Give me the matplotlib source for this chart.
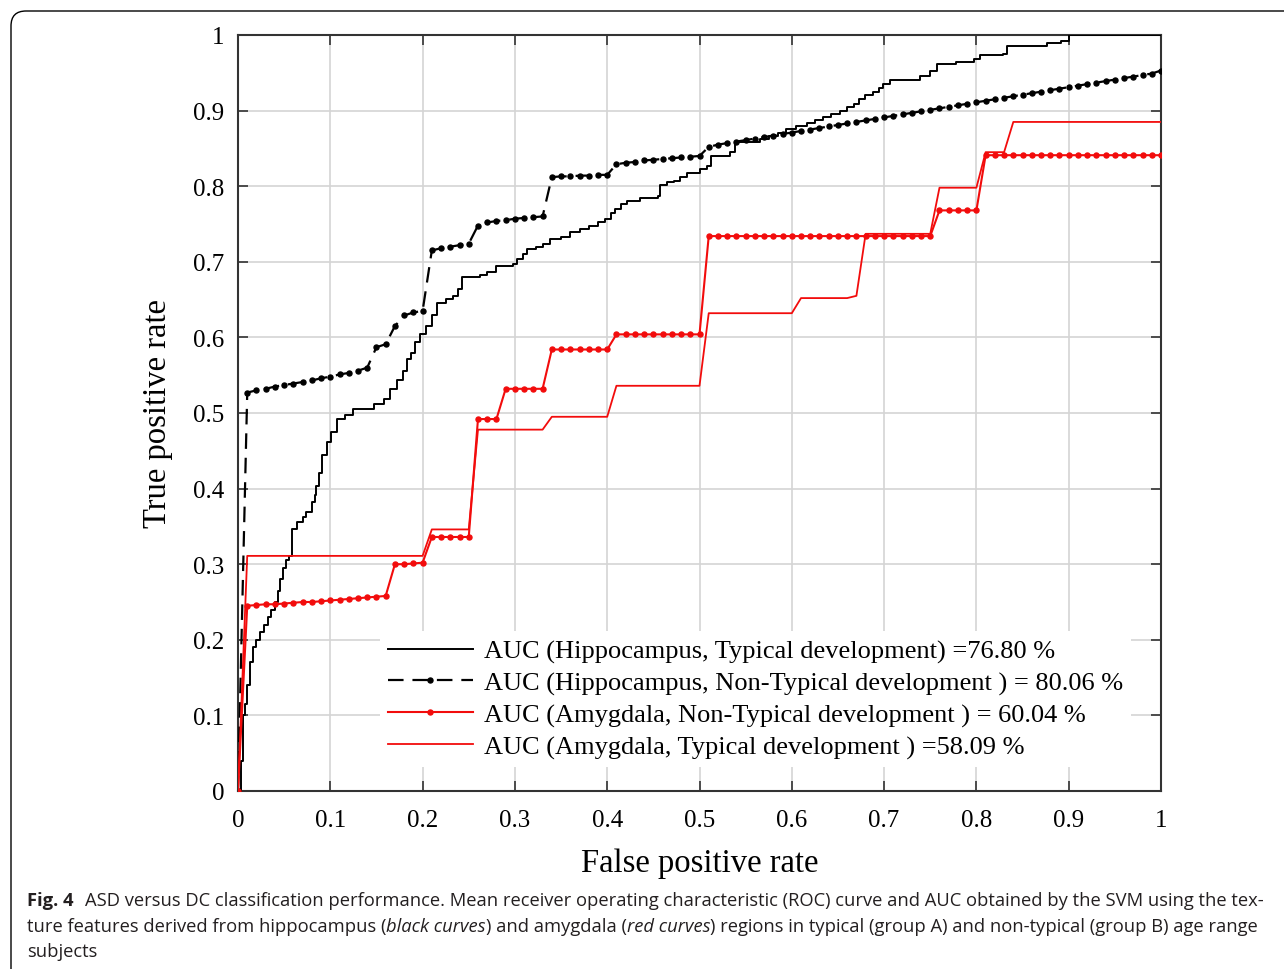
import numpy as np
import matplotlib
matplotlib.use("Agg")
import matplotlib.pyplot as plt
from matplotlib import font_manager
from matplotlib.path import Path
from matplotlib.patches import PathPatch

W, H = 1284, 970
SERIF = "Liberation Serif"
_installed = {f.name for f in font_manager.fontManager.ttflist}
CAPTION_FONT = "Liberation Sans Narrow" if "Liberation Sans Narrow" in _installed else "Open Sans"

# mean ROC grid used by the two marked curves
fpr_grid = np.linspace(0, 1, 101)

hip_nontyp_tpr = [
    0.000,
    0.527, 0.530, 0.532, 0.535, 0.537, 0.539, 0.541, 0.543, 0.546, 0.548,
    0.551, 0.553, 0.556, 0.560, 0.587, 0.591, 0.615, 0.629, 0.633, 0.635,
    0.715, 0.718, 0.720, 0.722, 0.724, 0.748, 0.752, 0.754, 0.755, 0.757,
    0.758, 0.759, 0.760, 0.812, 0.813, 0.813, 0.814, 0.814, 0.815, 0.815,
    0.829, 0.831, 0.832, 0.834, 0.835, 0.836, 0.837, 0.838, 0.839, 0.840,
    0.852, 0.855, 0.857, 0.859, 0.861, 0.863, 0.865, 0.867, 0.869, 0.871,
    0.873, 0.875, 0.877, 0.879, 0.881, 0.883, 0.885, 0.887, 0.889, 0.891,
    0.893, 0.895, 0.897, 0.899, 0.901, 0.903, 0.905, 0.907, 0.909, 0.911,
    0.913, 0.915, 0.917, 0.919, 0.921, 0.923, 0.925, 0.927, 0.929, 0.931,
    0.933, 0.935, 0.937, 0.939, 0.941, 0.943, 0.945, 0.947, 0.949, 0.953,
]

amy_nontyp_tpr = [
    0.000,
    0.245, 0.246, 0.247, 0.247, 0.248, 0.249, 0.250, 0.250, 0.251, 0.252,
    0.253, 0.254, 0.255, 0.256, 0.257, 0.258, 0.300, 0.300, 0.301, 0.302,
    0.336, 0.336, 0.336, 0.336, 0.336, 0.492, 0.492, 0.492, 0.532, 0.532,
    0.532, 0.532, 0.532, 0.584, 0.584, 0.584, 0.584, 0.584, 0.584, 0.584,
    0.604, 0.604, 0.604, 0.604, 0.604, 0.604, 0.604, 0.604, 0.604, 0.604,
    0.734, 0.734, 0.734, 0.734, 0.734, 0.734, 0.734, 0.734, 0.734, 0.734,
    0.734, 0.734, 0.734, 0.734, 0.734, 0.734, 0.734, 0.734, 0.734, 0.734,
    0.734, 0.734, 0.734, 0.734, 0.734, 0.768, 0.768, 0.768, 0.768, 0.768,
    0.841, 0.841, 0.841, 0.841, 0.841, 0.841, 0.841, 0.841, 0.841, 0.841,
    0.841, 0.841, 0.841, 0.841, 0.841, 0.841, 0.841, 0.841, 0.841, 0.841,
]

amy_typ_tpr = [
    0.000,
    0.311, 0.311, 0.311, 0.311, 0.311, 0.311, 0.311, 0.311, 0.311, 0.311,
    0.311, 0.311, 0.311, 0.311, 0.311, 0.311, 0.311, 0.311, 0.311, 0.311,
    0.346, 0.346, 0.346, 0.346, 0.346, 0.478, 0.478, 0.478, 0.478, 0.478,
    0.478, 0.478, 0.478, 0.495, 0.495, 0.495, 0.495, 0.495, 0.495, 0.495,
    0.536, 0.536, 0.536, 0.536, 0.536, 0.536, 0.536, 0.536, 0.536, 0.536,
    0.632, 0.632, 0.632, 0.632, 0.632, 0.632, 0.632, 0.632, 0.632, 0.632,
    0.652, 0.652, 0.652, 0.652, 0.652, 0.652, 0.655, 0.737, 0.737, 0.737,
    0.737, 0.737, 0.737, 0.737, 0.737, 0.798, 0.798, 0.798, 0.798, 0.798,
    0.845, 0.845, 0.845, 0.885, 0.885, 0.885, 0.885, 0.885, 0.885, 0.885,
    0.885, 0.885, 0.885, 0.885, 0.885, 0.885, 0.885, 0.885, 0.885, 0.885,
]

# hippocampus, typical development: staircase ROC (step starts)
hip_typ_fpr = [
    0, 0.003, 0.005, 0.008, 0.010, 0.013, 0.016, 0.020, 0.024, 0.028,
    0.032, 0.036, 0.040, 0.043, 0.046, 0.049, 0.052, 0.055, 0.058, 0.064,
    0.070, 0.074, 0.080, 0.083, 0.085, 0.088, 0.091, 0.096, 0.101, 0.107,
    0.116, 0.125, 0.147, 0.158, 0.165, 0.172, 0.179, 0.183, 0.187, 0.192,
    0.197, 0.204, 0.210, 0.216, 0.225, 0.233, 0.238, 0.243, 0.262, 0.270,
    0.279, 0.298, 0.302, 0.309, 0.313, 0.323, 0.330, 0.338, 0.350, 0.360,
    0.370, 0.380, 0.390, 0.398, 0.404, 0.408, 0.415, 0.421, 0.436, 0.455,
    0.457, 0.465, 0.472, 0.479, 0.486, 0.500, 0.508, 0.513, 0.533, 0.538,
    0.566, 0.575, 0.585, 0.594, 0.605, 0.616, 0.625, 0.634, 0.643, 0.652,
    0.660, 0.667, 0.673, 0.679, 0.688, 0.694, 0.699, 0.706, 0.739, 0.750,
    0.757, 0.778, 0.797, 0.804, 0.829, 0.833, 0.876, 0.892, 0.900, 1.000,
]
hip_typ_tpr = [
    0, 0.04, 0.10, 0.115, 0.14, 0.17, 0.19, 0.20, 0.21, 0.22,
    0.23, 0.24, 0.25, 0.265, 0.28, 0.295, 0.305, 0.311, 0.347, 0.356,
    0.362, 0.369, 0.382, 0.392, 0.404, 0.42, 0.444, 0.461, 0.475, 0.492,
    0.497, 0.505, 0.512, 0.519, 0.532, 0.543, 0.556, 0.571, 0.58, 0.594,
    0.604, 0.615, 0.629, 0.646, 0.651, 0.655, 0.664, 0.68, 0.682, 0.686,
    0.695, 0.697, 0.704, 0.71, 0.717, 0.719, 0.724, 0.73, 0.733, 0.739,
    0.743, 0.748, 0.752, 0.757, 0.765, 0.77, 0.776, 0.781, 0.785, 0.787,
    0.801, 0.805, 0.807, 0.812, 0.818, 0.823, 0.827, 0.84, 0.845, 0.858,
    0.862, 0.866, 0.87, 0.876, 0.88, 0.884, 0.887, 0.891, 0.895, 0.90,
    0.905, 0.909, 0.915, 0.92, 0.924, 0.93, 0.935, 0.94, 0.946, 0.953,
    0.962, 0.964, 0.968, 0.973, 0.975, 0.986, 0.99, 0.992, 1.0, 1.0,
]

legend_labels = [
    "AUC (Hippocampus, Typical development) =76.80 %",
    "AUC (Hippocampus, Non-Typical development ) = 80.06 %",
    "AUC (Amygdala, Non-Typical development ) = 60.04 %",
    "AUC (Amygdala, Typical development ) =58.09 %",
]
tick_values = [0, 0.1, 0.2, 0.3, 0.4, 0.5, 0.6, 0.7, 0.8, 0.9, 1]
tick_labels = ["0", "0.1", "0.2", "0.3", "0.4", "0.5", "0.6", "0.7", "0.8", "0.9", "1"]

caption_line1 = "ASD versus DC classification performance. Mean receiver operating characteristic (ROC) curve and AUC obtained by the SVM using the tex-"
caption_line2 = [
    ("ture features derived from hippocampus (", "normal"),
    ("black curves", "italic"),
    (") and amygdala (", "normal"),
    ("red curves", "italic"),
    (") regions in typical (group A) and non-typical (group B) age range", "normal"),
]
caption_line3 = "subjects"

RED = "#f20c0c"

fig = plt.figure(figsize=(W / 100, H / 100), dpi=100)
ax = fig.add_axes([238 / W, 1 - 792 / H, 923 / W, 756 / H])

ax.plot(hip_typ_fpr, hip_typ_tpr, color="black", lw=1.4, drawstyle="steps-post",
        label=legend_labels[0], zorder=3)
ax.plot(fpr_grid, hip_nontyp_tpr, color="black", lw=1.6, linestyle=(0, (7, 4)),
        marker="o", markersize=3.6, label=legend_labels[1], zorder=3)
ax.plot(fpr_grid, amy_nontyp_tpr, color=RED, lw=1.5, marker="o", markersize=3.6,
        label=legend_labels[2], zorder=3)
ax.plot(fpr_grid, amy_typ_tpr, color=RED, lw=1.3, label=legend_labels[3], zorder=3)

ax.set_xlim(0, 1)
ax.set_ylim(0, 1)
ax.set_xticks(tick_values)
ax.set_xticklabels(tick_labels, fontsize=18, family=SERIF)
ax.set_yticks(tick_values)
ax.set_yticklabels(tick_labels, fontsize=18, family=SERIF)
ax.tick_params(direction="in", length=7, width=1.2, color="#333333",
               top=True, right=True)
ax.tick_params(axis="x", pad=13)
ax.tick_params(axis="y", pad=10)
ax.grid(True, color="#d4d4d4", lw=1.2)
ax.set_axisbelow(True)
for sp in ax.spines.values():
    sp.set_color("#333333")
    sp.set_linewidth(1.5)

ax.set_xlabel("False positive rate", fontsize=23.5, family=SERIF, labelpad=12)
ax.set_ylabel("True positive rate", fontsize=23.5, family=SERIF, labelpad=14)

leg = ax.legend(loc="center left", bbox_to_anchor=(0.154, 0.1217), borderaxespad=0,
                prop={"family": SERIF, "size": 19}, handlelength=3.2,
                handletextpad=0.45, labelspacing=0.3, borderpad=0.3,
                frameon=True, fancybox=False, framealpha=1)
leg.get_frame().set_edgecolor("none")
leg.get_frame().set_facecolor("white")

# outer frame of the figure panel: top and left edge with rounded corner
frame_pts = [(11, 970), (11, 27), (11, 12), (26, 12), (1284, 12)]
frame_codes = [Path.MOVETO, Path.LINETO, Path.CURVE3, Path.CURVE3, Path.LINETO]
frame_path = Path([(x / W, 1 - y / H) for x, y in frame_pts], frame_codes)
fig.patches.append(PathPatch(frame_path, transform=fig.transFigure, fill=False,
                             edgecolor="black", lw=1.0))


def place_runs(runs, x0, y_base, size):
    renderer = fig.canvas.get_renderer()
    x = x0
    made = []
    for text, weight, style, gap in runs:
        x += gap
        t = fig.text(x / W, 1 - y_base / H, text, fontsize=size, family=CAPTION_FONT,
                     weight=weight, style=style, ha="left", va="baseline", color="#231f20")
        x = t.get_window_extent(renderer).x1
        made.append(t)
    return x, made


line1_runs = [("Fig. 4", "bold", "normal", 0), (caption_line1, "normal", "normal", 12)]
base_size = 12
end_x, tmp = place_runs(line1_runs, 27, 906, base_size)
for t in tmp:
    t.remove()
cap_size = base_size * (1262 - 27) / (end_x - 27)

place_runs(line1_runs, 27, 906, cap_size)
place_runs([(txt, "normal", st, 0) for txt, st in caption_line2], 27, 932, cap_size)
place_runs([(caption_line3, "normal", "normal", 0)], 27, 957, cap_size)

fig.savefig("out.png", dpi=100)
